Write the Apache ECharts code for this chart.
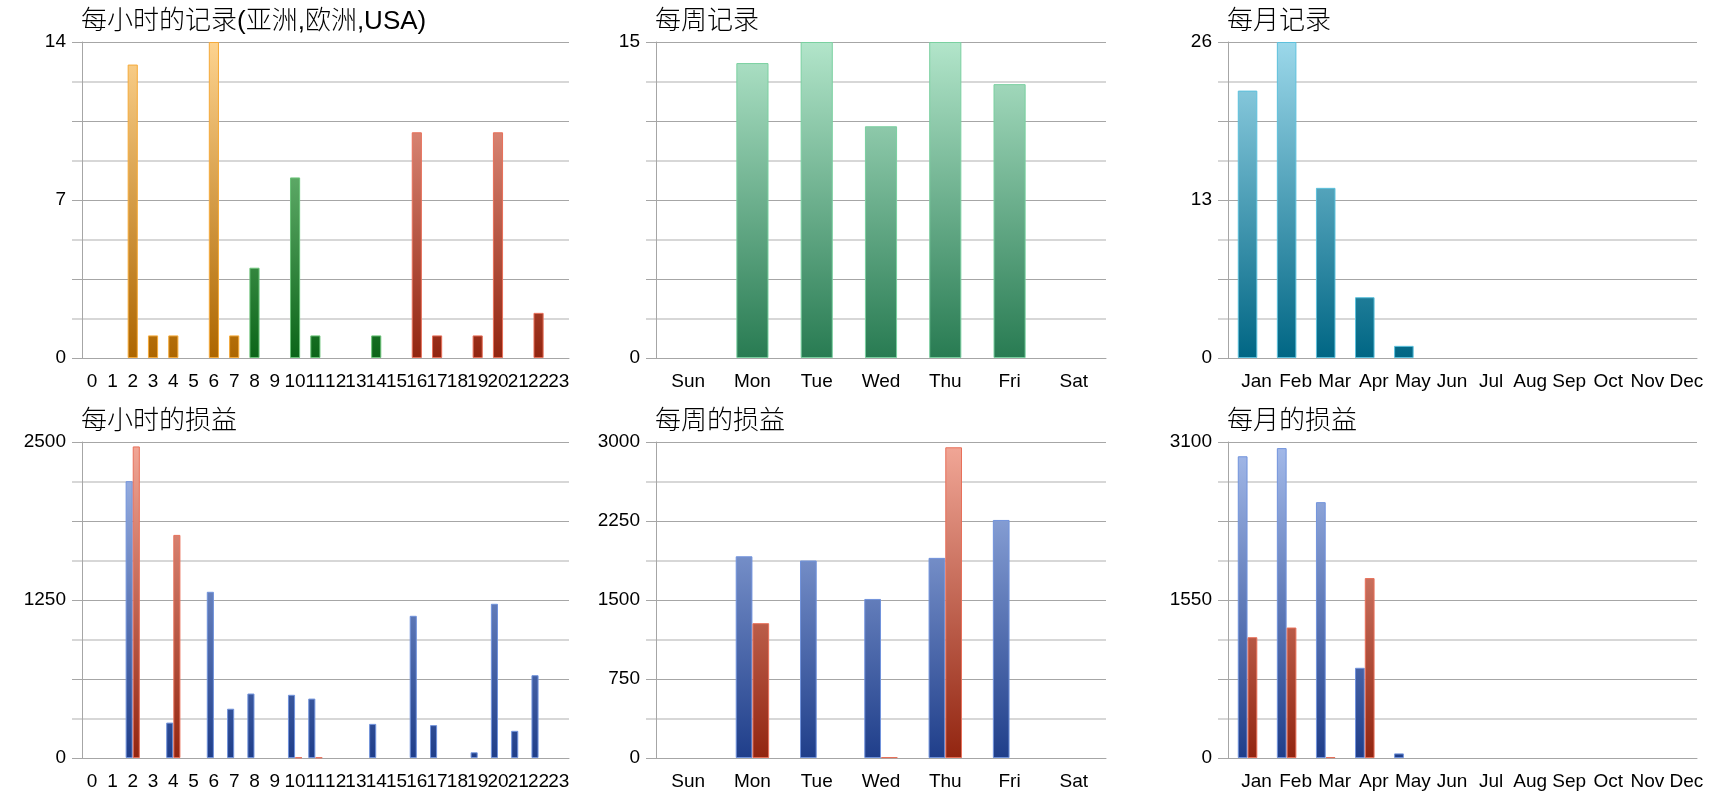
<!DOCTYPE html>
<html>
<head>
    <meta charset="utf-8">
    <title>记录与损益</title>
    <script src="https://cdn.jsdelivr.net/npm/echarts@6/dist/echarts.min.js"></script>
</head>
<body style="margin:0;background-color:#fff">
<div id="main" style="width:1720px;height:800px"></div>
<script type="text/javascript">
    // categories
    var hours = ['0', '1', '2', '3', '4', '5', '6', '7', '8', '9', '10', '11',
        '12', '13', '14', '15', '16', '17', '18', '19', '20', '21', '22', '23'];
    var weekdays = ['Sun', 'Mon', 'Tue', 'Wed', 'Thu', 'Fri', 'Sat'];
    var months = ['Jan', 'Feb', 'Mar', 'Apr', 'May', 'Jun', 'Jul', 'Aug', 'Sep', 'Oct', 'Nov', 'Dec'];

    // records per hour: 0-7 亚洲, 8-15 欧洲, 16-23 USA
    var hourlyRecords = [0, 0, 13, 1, 1, 0, 14, 1, 4, 0, 8, 1, 0, 0, 1, 0, 10, 1, 0, 1, 10, 0, 2, 0];
    var weeklyRecords = [0, 14, 15, 11, 15, 13, 0];
    var monthlyRecords = [22, 26, 14, 5, 1, 0, 0, 0, 0, 0, 0, 0];

    // profit (blue) / loss (red)
    var hourlyProfit = [0, 0, 2190, 0, 280, 0, 1315, 390, 510, 0, 500, 470, 0, 0, 270, 0, 1125, 260, 0, 45, 1220, 215, 655, 0];
    var hourlyLoss = [0, 0, 2465, 0, 1765, 0, 0, 0, 0, 0, 4, 4, 0, 0, 0, 0, 0, 0, 0, 0, 0, 0, 0, 0];
    var weeklyProfit = [0, 1915, 1875, 1510, 1900, 2260, 0];
    var weeklyLoss = [0, 1280, 0, 8, 2950, 0, 0];
    var monthlyProfit = [2960, 3040, 2510, 885, 45, 0, 0, 0, 0, 0, 0, 0];
    var monthlyLoss = [1185, 1280, 8, 1765, 0, 0, 0, 0, 0, 0, 0, 0];

    // y axis tick labels
    var ticksHourRec = [0, 7, 14];
    var ticksWeekRec = [0, 15];
    var ticksMonthRec = [0, 13, 26];
    var ticksHourPL = [0, 1250, 2500];
    var ticksWeekPL = [0, 750, 1500, 2250, 3000];
    var ticksMonthPL = [0, 1550, 3100];

    var titles = ['每小时的记录(亚洲,欧洲,USA)', '每周记录', '每月记录', '每小时的损益', '每周的损益', '每月的损益'];

    var font = 'Liberation Sans, Arial, Noto Sans CJK SC, sans-serif';
    var darkLine = '#a6a6a6';
    var lightLine = '#d7d7d7';

    var cols = [{left: 82, width: 487}, {left: 656, width: 450}, {left: 1228, width: 469}];
    var rows = [{top: 42, height: 316}, {top: 442, height: 316}];

    var myChart = echarts.init(document.getElementById('main'));

    function grad(row, topColor, bottomColor) {
        return {
            type: 'linear', global: true,
            x: 0, y: rows[row].top, x2: 0, y2: rows[row].top + rows[row].height,
            colorStops: [{offset: 0, color: topColor}, {offset: 1, color: bottomColor}]
        };
    }

    function nz(arr) {
        return arr.map(function (v) { return v === 0 ? null : v; });
    }

    function pick(arr, from, to) {
        return arr.map(function (v, i) { return (i >= from && i <= to && v !== 0) ? v : null; });
    }

    var grid = [], xAxis = [], yAxis = [], title = [];
    var cats = [hours, weekdays, months];
    var maxes = [14, 15, 26, 2500, 3000, 3100];
    var labelSets = [ticksHourRec, ticksWeekRec, ticksMonthRec, ticksHourPL, ticksWeekPL, ticksMonthPL];

    for (var i = 0; i < 6; i++) {
        var r = Math.floor(i / 3), c = i % 3;
        grid.push({left: cols[c].left, width: cols[c].width, top: rows[r].top, height: rows[r].height});
        title.push({
            text: titles[i], left: cols[c].left - 1, top: rows[r].top - 33, padding: 0,
            textStyle: {fontFamily: font, fontSize: 26, fontWeight: 300, color: '#000'}
        });
        xAxis.push({
            type: 'category', gridIndex: i, data: cats[c],
            axisLine: {lineStyle: {color: darkLine}},
            axisTick: {length: 10, lineStyle: {color: darkLine}},
            axisLabel: {
                interval: 0, hideOverlap: false, color: '#000', fontFamily: font, fontSize: 19, margin: 14,
                padding: c === 2 ? [0, 0, 0, 18] : 0
            }
        });
        (function (labels) {
            yAxis.push({
                type: 'value', gridIndex: i, min: 0, max: maxes[i], interval: maxes[i] / 4,
                axisLine: {show: true, lineStyle: {color: darkLine}},
                axisTick: {show: true, length: 10, lineStyle: {color: darkLine}},
                minorTick: {show: true, splitNumber: 2, length: 10, lineStyle: {color: lightLine, width: 2}},
                splitLine: {lineStyle: {color: darkLine, width: 1}},
                minorSplitLine: {show: true, lineStyle: {color: lightLine, width: 2}},
                axisLabel: {
                    color: '#000', fontFamily: font, fontSize: 19, margin: 16,
                    formatter: function (v) {
                        for (var k = 0; k < labels.length; k++) {
                            if (Math.abs(labels[k] - v) < 1e-6) return String(labels[k]);
                        }
                        return '';
                    }
                }
            });
        })(labelSets[i]);
    }

    function bar(idx, data, row, colors, opts) {
        var s = {
            type: 'bar', xAxisIndex: idx, yAxisIndex: idx, data: data,
            itemStyle: {color: grad(row, colors[0], colors[1]), borderColor: colors[2], borderWidth: 1},
            emphasis: {disabled: true}
        };
        for (var k in opts) s[k] = opts[k];
        return s;
    }

    var orange = ['#fdd38f', '#ad6600', '#f5aa3a'];
    var green = ['#98da9f', '#0b6518', '#6cc47a'];
    var red = ['#f2a898', '#922510', '#e8705a'];
    var blue = ['#a5bbea', '#1f3e8a', '#7193dc'];
    var teal = ['#9cd8ea', '#006684', '#5cc0dc'];
    var mint = ['#b2e5ca', '#287b52', '#7ad0a0'];

    var series = [
        bar(0, pick(hourlyRecords, 0, 7), 0, orange, {stack: 'rec', barWidth: '50%'}),
        bar(0, pick(hourlyRecords, 8, 15), 0, green, {stack: 'rec', barWidth: '50%'}),
        bar(0, pick(hourlyRecords, 16, 23), 0, red, {stack: 'rec', barWidth: '50%'}),
        bar(1, nz(weeklyRecords), 0, mint, {barWidth: '50%'}),
        bar(2, nz(monthlyRecords), 0, teal, {barWidth: '50%'}),
        bar(3, nz(hourlyProfit), 1, blue, {barWidth: '35%', barGap: '0%'}),
        bar(3, nz(hourlyLoss), 1, red, {barWidth: '35%', barGap: '0%'}),
        bar(4, nz(weeklyProfit), 1, blue, {barWidth: '26%', barGap: '0%'}),
        bar(4, nz(weeklyLoss), 1, red, {barWidth: '26%', barGap: '0%'}),
        bar(5, nz(monthlyProfit), 1, blue, {barWidth: '25%', barGap: '0%'}),
        bar(5, nz(monthlyLoss), 1, red, {barWidth: '25%', barGap: '0%'})
    ];

    myChart.setOption({
        animation: false,
        title: title,
        grid: grid,
        xAxis: xAxis,
        yAxis: yAxis,
        series: series
    });
</script>
</body>
</html>
